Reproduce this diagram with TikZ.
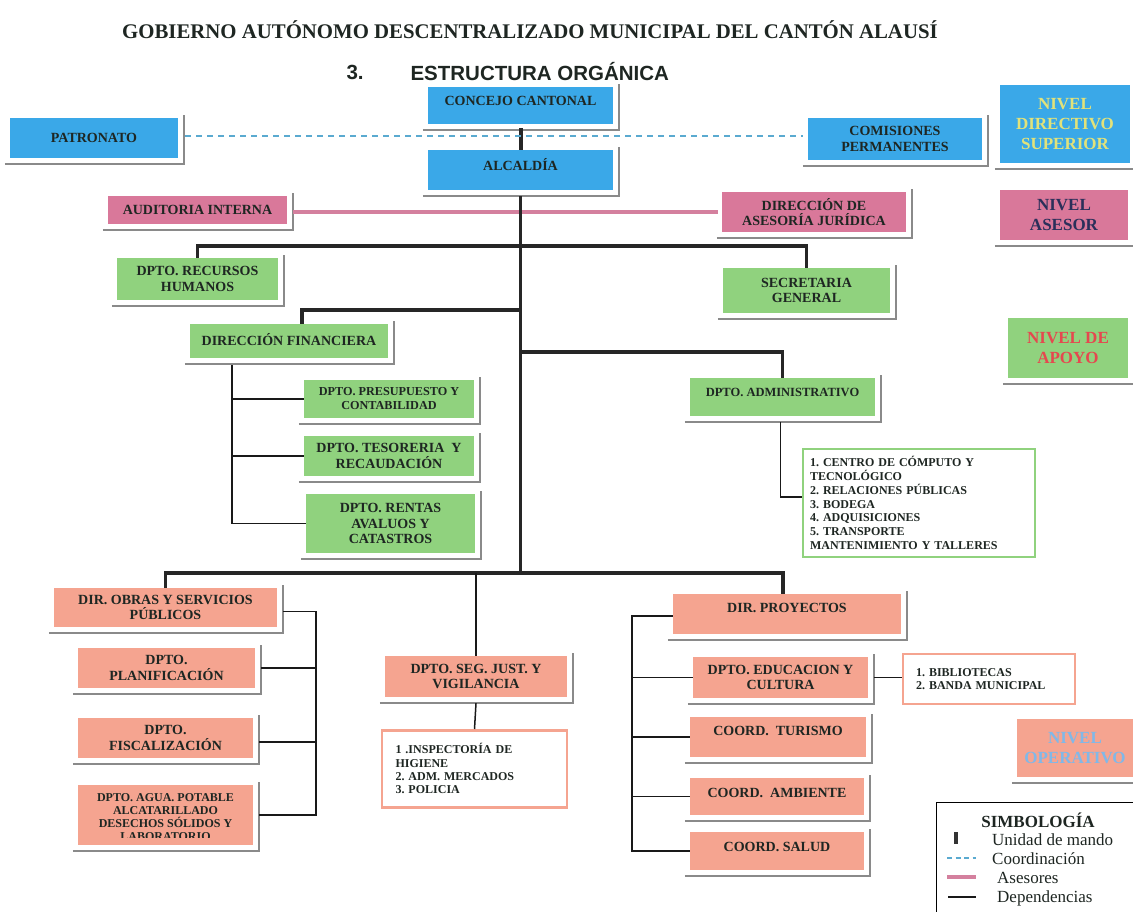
\documentclass[tikz,border=0pt]{standalone}
\usepackage{fontspec}
\setmainfont{Liberation Serif}
\setsansfont{Liberation Sans}
\usetikzlibrary{calc}
\definecolor{cblue}{HTML}{3AA8E8}
\definecolor{cpink}{HTML}{D9789A}
\definecolor{cgreen}{HTML}{90D27E}
\definecolor{csalmon}{HTML}{F5A490}
\definecolor{txt}{HTML}{1E2622}
\definecolor{shd}{HTML}{8A8A8A}
\definecolor{cdash}{HTML}{5AAAD0}
\definecolor{cpinkline}{HTML}{D4809E}
\definecolor{nyellow}{HTML}{E2E27A}
\definecolor{nnavy}{HTML}{2B2F5A}
\definecolor{nred}{HTML}{E5484F}
\definecolor{nlblue}{HTML}{80B8E8}
\begin{document}
\frenchspacing
\begin{tikzpicture}[x=1pt,y=-1pt,
 box/.style={draw=none, inner sep=2pt, align=center, text=txt,
   font=\bfseries\fontsize{14}{15.5}\selectfont},
 bluebox/.style={box, fill=cblue},
 pinkbox/.style={box, fill=cpink},
 greenbox/.style={box, fill=cgreen},
 salbox/.style={box, fill=csalmon},
 listbox/.style={fill=white, line width=2.5pt, align=left, inner sep=6pt, text=txt,
   font=\bfseries\fontsize{12}{13.7}\selectfont},
 levelbox/.style={inner sep=2pt, align=center, font=\bfseries\fontsize{17}{20}\selectfont},
 up/.style={text depth=#1},
 shadowline/.style={draw=shd, line width=1.6pt},
 mando/.style={line width=4pt, black!85},
 mainline/.style={line width=3.4pt, black!85},
 dep/.style={line width=1.5pt, black!90},
 coordline/.style={draw=cdash, line width=1.3pt, dash pattern=on 6pt off 5pt},
 asesorline/.style={draw=cpinkline, line width=4pt},
 legtext/.style={anchor=west, inner sep=0pt, font=\fontsize{17}{18}\selectfont, text=txt}
]
\useasboundingbox[fill=white] (0,0) rectangle (1133,911);

% titles
\node[font=\bfseries\fontsize{20.8}{22}\selectfont, text=txt] (title) at (530,30)
 {GOBIERNO AUTÓNOMO DESCENTRALIZADO MUNICIPAL DEL CANTÓN ALAUSÍ};
\node[font=\sffamily\bfseries\fontsize{20.5}{22}\selectfont, text=txt, anchor=west] (num) at (343,72) {3.};
\node[font=\sffamily\bfseries\fontsize{20.5}{22}\selectfont, text=txt, anchor=west] (sub) at (407,72) {ESTRUCTURA ORGÁNICA};

% level directive
\node[bluebox, minimum width=185pt, minimum height=37pt, up=10pt] (concejo) at (520.5,105.5) {CONCEJO CANTONAL};
\node[bluebox, minimum width=185pt, minimum height=40pt, up=12pt] (alcaldia) at (520.5,170) {ALCALDÍA};
\node[bluebox, minimum width=168pt, minimum height=40pt] (patronato) at (94,138) {PATRONATO};
\node[bluebox, minimum width=174pt, minimum height=42pt] (comisiones) at (895,139) {COMISIONES\\PERMANENTES};
\node[levelbox, fill=cblue, text=nyellow, minimum width=130pt, minimum height=78pt] (nds) at (1065,124) {NIVEL\\DIRECTIVO\\SUPERIOR};

% asesor
\node[pinkbox, minimum width=179pt, minimum height=28pt] (auditoria) at (197.5,210) {AUDITORIA INTERNA};
\node[pinkbox, minimum width=184pt, minimum height=40pt] (juridica) at (814,212) {DIRECCIÓN DE\\ASESORÍA JURÍDICA};
\node[levelbox, fill=cpink, text=nnavy, minimum width=128pt, minimum height=50pt] (nasesor) at (1064,215) {NIVEL\\ASESOR};

% apoyo
\node[greenbox, minimum width=161pt, minimum height=42pt] (rrhh) at (197.5,279) {DPTO. RECURSOS\\HUMANOS};
\node[greenbox, minimum width=167pt, minimum height=45pt] (secretaria) at (806.5,290.5) {SECRETARIA\\GENERAL};
\node[greenbox, minimum width=198pt, minimum height=34pt, up=4pt] (dirfin) at (289,341) {DIRECCIÓN FINANCIERA};
\node[levelbox, fill=cgreen, text=nred, minimum width=120pt, minimum height=60pt] (napoyo) at (1068,348) {NIVEL DE\\APOYO};
\node[greenbox, minimum width=185pt, minimum height=38pt, up=10pt, font=\bfseries\fontsize{12.5}{14}\selectfont] (admin) at (782.5,397) {DPTO. ADMINISTRATIVO};
\node[greenbox, minimum width=170pt, minimum height=38pt, font=\bfseries\fontsize{12.2}{14}\selectfont] (presup) at (389,399) {DPTO. PRESUPUESTO Y\\CONTABILIDAD};
\node[greenbox, minimum width=170pt, minimum height=40pt] (tesor) at (389,456) {DPTO. TESORERIA\ \ Y\\RECAUDACIÓN};
\node[greenbox, minimum width=169pt, minimum height=59pt] (rentas) at (390.5,523.5) {DPTO. RENTAS\\AVALUOS Y\\CATASTROS};
\node[listbox, draw=cgreen, minimum width=232pt, minimum height=108pt, text width=218pt] (adminlist) at (919,503)
 {1. CENTRO DE CÓMPUTO Y\\TECNOLÓGICO\\2. RELACIONES PÚBLICAS\\3. BODEGA\\4. ADQUISICIONES\\5. TRANSPORTE\\MANTENIMIENTO Y TALLERES};

% operativo
\node[salbox, minimum width=223pt, minimum height=39pt] (obras) at (165.5,607.5) {DIR. OBRAS Y SERVICIOS\\PÚBLICOS};
\node[salbox, minimum width=177pt, minimum height=40pt] (planif) at (166.5,668) {DPTO.\\PLANIFICACIÓN};
\node[salbox, minimum width=175pt, minimum height=40pt] (fiscal) at (165.5,738) {DPTO.\\FISCALIZACIÓN};
\node[salbox, minimum width=175pt, minimum height=60pt] (agua) at (165.5,815) {};
\begin{scope}
 \clip ([yshift=8pt]agua.south west) rectangle (agua.north east);
 \node[box, anchor=north, font=\bfseries\fontsize{12}{13}\selectfont] (aguatext) at ([yshift=-7pt]agua.north)
  {DPTO. AGUA. POTABLE\\ALCATARILLADO\\DESECHOS SÓLIDOS Y\\LABORATORIO};
\end{scope}
\node[salbox, minimum width=182pt, minimum height=41pt] (seg) at (476,676.5) {DPTO. SEG. JUST. Y\\VIGILANCIA};
\node[listbox, draw=csalmon, minimum width=185pt, minimum height=77pt, text width=158pt, anchor=north,
   inner xsep=13pt, font=\bfseries\fontsize{12}{13.3}\selectfont] (seglist) at (474.5,729)
 {1 .INSPECTORÍA DE\\HIGIENE\\2. ADM. MERCADOS\\3. POLICIA\\[5pt]};
\node[salbox, minimum width=228pt, minimum height=40pt, up=12pt] (proyectos) at (787,614) {DIR. PROYECTOS};
\node[salbox, minimum width=175pt, minimum height=41pt] (educ) at (780.5,677.5) {DPTO. EDUCACION Y\\CULTURA};
\node[listbox, draw=csalmon, minimum width=172pt, minimum height=50pt, text width=146pt, inner xsep=13pt,
   font=\bfseries\fontsize{12}{12.8}\selectfont] (biblio) at (989,679)
 {1. BIBLIOTECAS\\2. BANDA MUNICIPAL\\[6pt]};
\node[salbox, minimum width=176pt, minimum height=40pt, up=12pt] (turismo) at (778,737) {COORD.\ \ TURISMO};
\node[salbox, minimum width=174pt, minimum height=37pt, up=8pt] (ambiente) at (777,796.5) {COORD.\ \ AMBIENTE};
\node[salbox, minimum width=174pt, minimum height=38pt, up=8pt] (salud) at (777,851) {COORD. SALUD};
\node[levelbox, fill=csalmon, text=nlblue, minimum width=116pt, minimum height=58pt] (noper) at (1075,748) {NIVEL\\OPERATIVO};

% shadows
\foreach \n in {concejo,alcaldia,patronato,comisiones,nds,auditoria,juridica,nasesor,rrhh,secretaria,dirfin,napoyo,admin,presup,tesor,rentas,obras,planif,fiscal,agua,seg,proyectos,educ,turismo,ambiente,salud,noper}
 \draw[shadowline] ([shift={(-5,6)}]\n.south west) -- ([shift={(6,6)}]\n.south east) -- ([shift={(6,-3)}]\n.north east);

% unidad de mando
\draw[mando] ([yshift=-4pt]concejo.south) -- (alcaldia.north);
% coordinacion
\coordinate (d1) at ([shift={(7,-2)}]patronato.east);
\draw[coordline, shorten >=5pt] (d1) -- (d1 -| comisiones.west);
% asesores
\coordinate (a1) at ([shift={(6,2)}]auditoria.east);
\draw[asesorline, shorten >=4pt] (a1) -- (a1 -| juridica.west);

% main structure
\coordinate (h1) at (520.5,246);
\coordinate (h2) at (520.5,310);
\coordinate (h3) at (520.5,352);
\coordinate (h4) at (520.5,573);
\draw[mainline] ([yshift=-6pt]alcaldia.south) -- (h4);
\draw[mainline] (rrhh.north) |- (h1) -| (secretaria.north);
\draw[mainline] ([xshift=13pt]dirfin.north) |- (h2);
\draw[mainline] (h3) -| (admin.north);
\draw[mainline] (obras.north) |- (h4) -| ([xshift=-4pt]proyectos.north);

% dependencias
\coordinate (fx) at (232,365);
\draw[dep] (fx) |- (rentas.west);
\draw[dep] (fx |- presup.west) -- (presup.west);
\draw[dep] (fx |- tesor.west) -- (tesor.west);
\draw[dep] ([shift={(-2,6)}]admin.south) |- ([yshift=6pt]adminlist.west);

\draw[dep] ([shift={(6,4)}]obras.east) -- ++(33,0) coordinate (ob1) |- ([xshift=6pt]agua.east);
\draw[dep] ([xshift=6pt]planif.east) -- (planif.east -| ob1);
\draw[dep] ([shift={(6,4)}]fiscal.east) -- ($(fiscal.east -| ob1)+(0,4)$);

\draw[dep] (seg.north |- h4) -- (seg.north);
\draw[dep] ([yshift=-6pt]seg.south) -- (seglist.north);

\draw[dep] ([yshift=-2pt]proyectos.west) -- ++(-41,0) coordinate (pb) |- (salud.west);
\draw[dep] (pb |- educ.west) -- (educ.west);
\draw[dep] (pb |- turismo.west) -- (turismo.west);
\draw[dep] (pb |- ambiente.west) -- (ambiente.west);
\draw[dep] ([xshift=6pt]educ.east) -- (biblio.west |- educ.east);

% legend
\node[draw=black, line width=1.3pt, fill=white, minimum width=200pt, minimum height=115pt, anchor=north west, inner sep=0pt] (legend) at (936,802) {};
\node[font=\bfseries\fontsize{17}{18}\selectfont, text=txt] (simb) at (1038,820) {SIMBOLOGÍA};
\draw[line width=3.5pt, black!80] (956,832) -- (956,844);
\node[legtext] (l1) at (992,840) {Unidad de mando};
\draw[coordline, dash pattern=on 5pt off 3.5pt] (947,858) -- (976,858);
\node[legtext] (l2) at (992,859) {Coordinación};
\draw[asesorline] (947,877) -- (976,877);
\node[legtext] (l3) at (997,878) {Asesores};
\draw[dep] (948,897) -- (976,897);
\node[legtext] (l4) at (997,898) {Dependencias};
\end{tikzpicture}
\end{document}
